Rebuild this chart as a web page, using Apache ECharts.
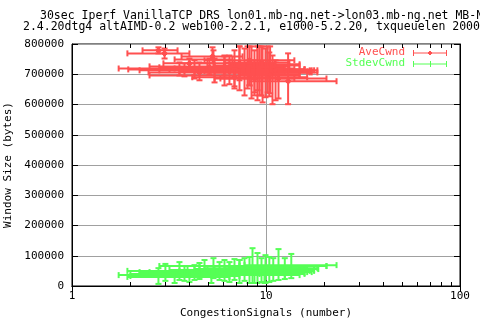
<!DOCTYPE html>
<html>
<head>
<meta charset="utf-8">
<script src="https://cdn.jsdelivr.net/npm/echarts@6/dist/echarts.min.js"></script>
<style>
html, body { margin: 0; padding: 0; background: #fff; }
#chart { width: 480px; height: 320px; }
</style>
</head>
<body>
<div id="chart"></div>
<script>
// [x, y, xlow, xhigh, ylow, yhigh]
var aveCwnd = [
	[2.79, 779000, 2.31, 3.50, 769000, 789000],
	[3.00, 769000, 1.93, 4.03, 752000, 785000],
	[5.30, 759000, 3.67, 7.57, 736000, 789000],
	[5.36, 749000, 3.38, 6.71, 719000, 779000],
	[4.03, 736000, 2.96, 4.99, 719000, 752000],
	[7.30, 736000, 4.03, 11.1, 680000, 792000],
	[8.22, 746000, 4.82, 14.0, 663000, 792000],
	[9.04, 729000, 5.43, 14.9, 647000, 792000],
	[9.48, 739000, 6.11, 13.2, 630000, 792000],
	[10.2, 733000, 6.48, 14.9, 640000, 792000],
	[3.58, 719000, 1.74, 9.26, 696000, 739000],
	[3.80, 716000, 1.95, 11.1, 693000, 736000],
	[4.28, 713000, 2.23, 11.7, 686000, 746000],
	[4.54, 706000, 2.48, 12.5, 680000, 739000],
	[5.43, 713000, 2.82, 14.9, 673000, 752000],
	[6.11, 716000, 3.18, 15.8, 663000, 762000],
	[6.48, 710000, 3.58, 16.8, 667000, 762000],
	[6.88, 719000, 3.38, 14.0, 653000, 779000],
	[7.30, 713000, 3.80, 18.4, 647000, 792000],
	[7.75, 706000, 4.28, 16.8, 630000, 785000],
	[8.03, 716000, 4.54, 15.8, 653000, 792000],
	[8.42, 710000, 4.82, 16.3, 620000, 792000],
	[8.72, 713000, 5.11, 16.8, 640000, 779000],
	[9.04, 706000, 5.43, 17.2, 614000, 792000],
	[9.26, 716000, 5.76, 15.8, 630000, 792000],
	[9.60, 710000, 6.11, 16.8, 607000, 792000],
	[9.94, 713000, 6.48, 17.7, 624000, 785000],
	[10.4, 706000, 6.88, 18.4, 627000, 772000],
	[10.8, 710000, 7.30, 16.8, 601000, 762000],
	[11.2, 713000, 7.75, 17.2, 614000, 746000],
	[6.11, 726000, 2.51, 13.2, 696000, 759000],
	[5.11, 723000, 2.82, 12.5, 700000, 752000],
	[6.88, 690000, 4.17, 16.3, 660000, 719000],
	[11.6, 686000, 5.82, 20.5, 620000, 719000],
	[13.0, 677000, 8.22, 23.1, 601000, 769000],
	[8.22, 696000, 2.51, 14.9, 663000, 729000],
	[10.5, 700000, 7.30, 14.9, 637000, 792000],
	[8.72, 686000, 5.43, 14.0, 630000, 746000]
];

var stdevCwnd = [
	[2.79, 36000, 1.74, 4.54, 7000, 59000],
	[3.03, 46000, 2.23, 5.76, 17000, 73000],
	[3.58, 50000, 1.93, 8.22, 20000, 79000],
	[3.80, 40000, 2.00, 9.26, 17000, 66000],
	[4.28, 43000, 2.23, 10.4, 20000, 69000],
	[4.54, 46000, 2.51, 11.7, 23000, 76000],
	[5.23, 36000, 3.03, 12.5, 10000, 56000],
	[5.36, 53000, 3.18, 13.2, 26000, 92000],
	[5.76, 46000, 3.38, 14.0, 20000, 79000],
	[6.11, 50000, 3.58, 14.9, 17000, 86000],
	[6.48, 43000, 3.80, 15.8, 13000, 79000],
	[6.88, 53000, 3.94, 14.9, 20000, 89000],
	[7.30, 46000, 4.03, 16.3, 10000, 86000],
	[7.75, 56000, 4.28, 15.8, 17000, 92000],
	[8.22, 50000, 4.54, 16.8, 10000, 96000],
	[8.52, 59000, 4.82, 15.8, 10000, 125000],
	[9.04, 53000, 4.99, 17.7, 10000, 109000],
	[9.48, 46000, 5.11, 17.2, 13000, 92000],
	[9.94, 56000, 5.43, 18.6, 10000, 102000],
	[10.4, 50000, 5.76, 17.7, 13000, 96000],
	[10.9, 59000, 6.11, 18.4, 17000, 92000],
	[11.6, 66000, 6.48, 20.5, 20000, 122000],
	[13.5, 69000, 7.75, 23.1, 26000, 106000],
	[12.5, 59000, 6.63, 16.3, 23000, 92000],
	[4.82, 66000, 2.82, 7.30, 46000, 86000],
	[4.03, 33000, 2.00, 7.30, 13000, 53000],
	[3.38, 30000, 1.93, 6.48, 10000, 46000],
	[7.30, 66000, 4.54, 20.5, 43000, 86000],
	[8.72, 36000, 4.03, 14.9, 10000, 59000],
	[9.82, 40000, 4.54, 15.8, 10000, 63000]
];

var minorTicks = [2, 3, 4, 5, 6, 7, 8, 9, 20, 30, 40, 50, 60, 70, 80, 90];
var titleLines = [
	'30sec Iperf VanillaTCP DRS lon01.mb-ng.net->lon03.mb-ng.net MB-NG',
	'2.4.20dtg4 altAIMD-0.2 web100-2.2.1, e1000-5.2.20, txqueuelen 2000'
];

var RED = '#ff5050';
var GREEN = '#55ff55';
var FONT = 'DejaVu Sans Mono';
var FS = 11;

function errRender(color, mark) {
	return function(params, api) {
		var x = api.value(0), y = api.value(1);
		var c = api.coord([x, y]);
		var l = api.coord([api.value(2), y]);
		var r = api.coord([api.value(3), y]);
		var b = api.coord([x, api.value(4)]);
		var t = api.coord([x, api.value(5)]);
		var cap = 3;
		var st = { stroke: color, lineWidth: 2, fill: null };
		var kids = [
			{ type: 'line', shape: { x1: l[0], y1: c[1], x2: r[0], y2: c[1] }, style: st },
			{ type: 'line', shape: { x1: l[0], y1: c[1] - cap, x2: l[0], y2: c[1] + cap }, style: st },
			{ type: 'line', shape: { x1: r[0], y1: c[1] - cap, x2: r[0], y2: c[1] + cap }, style: st },
			{ type: 'line', shape: { x1: c[0], y1: b[1], x2: c[0], y2: t[1] }, style: st },
			{ type: 'line', shape: { x1: c[0] - cap, y1: b[1], x2: c[0] + cap, y2: b[1] }, style: st },
			{ type: 'line', shape: { x1: c[0] - cap, y1: t[1], x2: c[0] + cap, y2: t[1] }, style: st }
		];
		if (mark === 'diamond') {
			kids.push({ type: 'polygon', shape: { points: [[c[0], c[1] - 3], [c[0] + 3, c[1]], [c[0], c[1] + 3], [c[0] - 3, c[1]]] },
				style: { fill: color, stroke: color, lineWidth: 1 } });
		}
		return { type: 'group', children: kids };
	};
}

function minorRender(params, api) {
	var v = api.value(0);
	var p0 = api.coord([v, 0]);
	var p1 = api.coord([v, 800000]);
	var st = { stroke: '#000', lineWidth: 1 };
	var xx = Math.round(p0[0]) + 0.5;
	return {
		type: 'group',
		children: [
			{ type: 'line', shape: { x1: xx, y1: p0[1], x2: xx, y2: p0[1] - 4 }, style: st },
			{ type: 'line', shape: { x1: xx, y1: p1[1], x2: xx, y2: p1[1] + 4 }, style: st }
		]
	};
}

var chart = echarts.init(document.getElementById('chart'));
var txt = { fontFamily: FONT, fontSize: FS, color: '#000' };

chart.setOption({
	animation: false,
	backgroundColor: '#fff',
	title: [
		{ text: titleLines[0], left: 35, top: 5, textStyle: { fontFamily: FONT, fontSize: 11.5, fontWeight: 'normal', color: '#000' } },
		{ text: titleLines[1], left: 18, top: 16, textStyle: { fontFamily: FONT, fontSize: 11.5, fontWeight: 'normal', color: '#000' } }
	],
	grid: {
		left: 72, right: 20, top: 44, bottom: 34, outerBoundsMode: 'none', containLabel: false,
		show: true, borderColor: '#000', borderWidth: 1, backgroundColor: 'transparent'
	},
	xAxis: [
		{
			type: 'log', logBase: 10, min: 1, max: 100, position: 'bottom',
			name: 'CongestionSignals (number)', nameLocation: 'middle', nameGap: 22,
			nameTextStyle: txt,
			axisLine: { lineStyle: { color: '#000', width: 1 } },
			axisTick: { inside: true, length: 6, lineStyle: { color: '#000' } },
			axisLabel: { fontFamily: FONT, fontSize: FS, color: '#000', margin: 5 },
			splitLine: { show: true, lineStyle: { color: '#a0a0a0', width: 1 } }
		},
		{
			type: 'log', logBase: 10, min: 1, max: 100, position: 'top',
			axisLine: { lineStyle: { color: '#000' } },
			axisTick: { inside: true, length: 6, lineStyle: { color: '#000' } },
			axisLabel: { show: false },
			splitLine: { show: false }
		}
	],
	yAxis: [
		{
			type: 'value', min: 0, max: 800000, interval: 100000, position: 'left',
			name: 'Window Size (bytes)', nameLocation: 'middle', nameGap: 52, nameRotate: 90,
			nameTextStyle: txt,
			axisLine: { show: true, lineStyle: { color: '#000' } },
			axisTick: { show: true, inside: true, length: 6, lineStyle: { color: '#000' } },
			axisLabel: { fontFamily: FONT, fontSize: FS, color: '#000', margin: 8, formatter: function(v) { return String(v); } },
			splitLine: { show: true, lineStyle: { color: '#a0a0a0', width: 1 } }
		},
		{
			type: 'value', min: 0, max: 800000, interval: 100000, position: 'right',
			axisLine: { show: true, lineStyle: { color: '#000' } },
			axisTick: { show: true, inside: true, length: 6, lineStyle: { color: '#000' } },
			axisLabel: { show: false },
			splitLine: { show: false }
		}
	],
	series: [
		{
			type: 'custom', name: 'minor', renderItem: minorRender,
			data: minorTicks.map(function(v) { return [v, 0]; }),
			encode: { x: 0, y: 1 }, silent: true, z: 5
		},
		{
			type: 'custom', name: 'AveCwnd', renderItem: errRender(RED, 'diamond'),
			data: aveCwnd, encode: { x: [0, 2, 3], y: [1, 4, 5] }, z: 3
		},
		{
			type: 'custom', name: 'StdevCwnd', renderItem: errRender(GREEN, 'plus'),
			data: stdevCwnd, encode: { x: [0, 2, 3], y: [1, 4, 5] }, z: 3
		}
	],
	graphic: [
		{ type: 'text', right: 75, top: 47, style: { text: 'AveCwnd', fill: RED, font: FS + 'px ' + FONT } },
		{ type: 'line', shape: { x1: 413, y1: 53, x2: 447, y2: 53 }, style: { stroke: RED, lineWidth: 1 } },
		{ type: 'line', shape: { x1: 413.5, y1: 50, x2: 413.5, y2: 56 }, style: { stroke: RED, lineWidth: 1 } },
		{ type: 'line', shape: { x1: 446.5, y1: 50, x2: 446.5, y2: 56 }, style: { stroke: RED, lineWidth: 1 } },
		{ type: 'polygon', shape: { points: [[430, 51], [432, 53], [430, 55], [428, 53]] }, style: { fill: RED, stroke: RED } },
		{ type: 'text', right: 75, top: 58, style: { text: 'StdevCwnd', fill: GREEN, font: FS + 'px ' + FONT } },
		{ type: 'line', shape: { x1: 413, y1: 64, x2: 447, y2: 64 }, style: { stroke: GREEN, lineWidth: 1 } },
		{ type: 'line', shape: { x1: 413.5, y1: 61, x2: 413.5, y2: 67 }, style: { stroke: GREEN, lineWidth: 1 } },
		{ type: 'line', shape: { x1: 446.5, y1: 61, x2: 446.5, y2: 67 }, style: { stroke: GREEN, lineWidth: 1 } },
		{ type: 'line', shape: { x1: 430.5, y1: 61, x2: 430.5, y2: 67 }, style: { stroke: GREEN, lineWidth: 1 } }
	]
});
</script>
</body>
</html>
